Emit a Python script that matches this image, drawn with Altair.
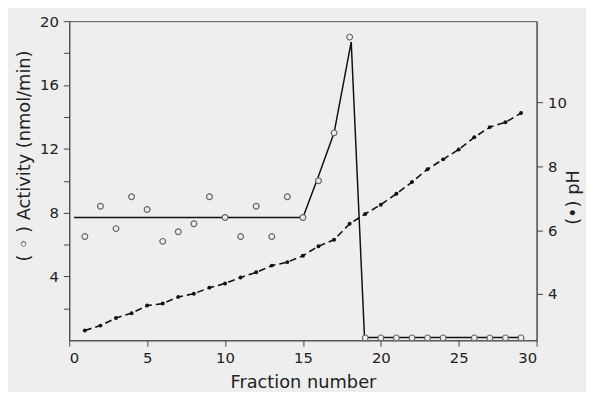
import altair as alt
import pandas as pd

# ---- data ----
fraction = list(range(1, 30))
ph = [2.86, 3.01, 3.25, 3.40, 3.64, 3.70, 3.91, 4.01, 4.20, 4.33,
      4.52, 4.68, 4.89, 5.00, 5.20, 5.50, 5.70, 6.20, 6.51, 6.80,
      7.14, 7.51, 7.91, 8.22, 8.53, 8.91, 9.23, 9.38, 9.67]

act_fraction = [1, 2, 3, 4, 5, 6, 7, 8, 9, 10, 11, 12, 13, 14, 15, 16, 17, 18,
                19, 20, 21, 22, 23, 24, 26, 27, 28, 29]
activity = [6.5, 8.4, 7.0, 9.0, 8.2, 6.2, 6.8, 7.3, 9.0, 7.7, 6.5, 8.4, 6.5, 9.0,
            7.7, 10.0, 13.0, 19.0,
            0.15, 0.15, 0.15, 0.15, 0.15, 0.15, 0.15, 0.15, 0.15, 0.15]

fit_fraction = [0.3, 15, 16, 17, 18.1, 18.95, 19, 29]
fit_activity = [7.7, 7.7, 10.3, 13.0, 18.7, 0.25, 0.18, 0.18]

x_ticks = [0, 5, 10, 15, 20, 25, 30]
act_ticks = [2, 4, 6, 8, 10, 12, 14, 16, 18, 20]
ph_ticks = [4, 6, 8, 10]

BG = "#eeeeee"
FONT = "DejaVu Sans"

df_ph = pd.DataFrame({"fraction": fraction, "ph": ph})
df_act = pd.DataFrame({"fraction": act_fraction, "activity": activity})
df_fit = pd.DataFrame({"fraction": fit_fraction, "activity": fit_activity})

xscale = alt.Scale(domain=[0, 30], nice=False, zero=False)
yscale = alt.Scale(domain=[0, 20], nice=False)
phscale = alt.Scale(domain=[2.55, 12.55], nice=False, zero=False)

common_axis = dict(grid=False, domainColor="#444", tickColor="#444", tickSize=6,
                   labelFont=FONT, labelFontSize=15, labelColor="#222",
                   titleFont=FONT, titleFontSize=18, titleFontWeight="normal",
                   titleColor="#222")

x_axis = alt.Axis(values=x_ticks, title="Fraction number", labelPadding=4,
                  titleX=236.5, titleY=48, titleBaseline="alphabetic",
                  titleAlign="center", **common_axis)
y_axis = alt.Axis(values=act_ticks, title="( \u25e6 ) Activity (nmol/min)",
                  labelExpr="datum.value % 4 == 0 ? datum.label : ''",
                  labelPadding=5, titleAngle=270, titleX=-45, titleY=136,
                  titleAlign="center", titleBaseline="middle", **common_axis)
ph_axis = alt.Axis(values=ph_ticks, title="(\u2022) pH", orient="right",
                   labelPadding=5, titleAngle=270, titleX=37, titleY=178,
                   titleAlign="center", titleBaseline="middle", **common_axis)

x_enc = alt.X("fraction:Q", scale=xscale, axis=x_axis)

ph_line = alt.Chart(df_ph).mark_line(color="#111", strokeWidth=1.6,
                                     strokeDash=[7, 4]).encode(
    x=x_enc, y=alt.Y("ph:Q", scale=phscale, axis=ph_axis))
ph_dots = alt.Chart(df_ph).mark_point(filled=True, color="#111", size=16,
                                      opacity=1).encode(
    x=x_enc, y=alt.Y("ph:Q", scale=phscale, axis=ph_axis))

fit_line = alt.Chart(df_fit).mark_line(color="#111", strokeWidth=1.5).encode(
    x=x_enc, y=alt.Y("activity:Q", scale=yscale, axis=y_axis))
act_pts = alt.Chart(df_act).mark_point(shape="circle", filled=True, fill=BG,
                                       stroke="#666", strokeWidth=1.2, size=34,
                                       opacity=1).encode(
    x=x_enc, y=alt.Y("activity:Q", scale=yscale, axis=y_axis))

left = alt.layer(fit_line, act_pts)
right = alt.layer(ph_line, ph_dots)

chart = alt.layer(left, right).resolve_scale(y="independent").properties(
    width=473, height=323,
    autosize=alt.AutoSizeParams(type="none"),
    padding={"left": 62, "top": 11, "right": 50, "bottom": 50},
    background=BG,
).configure_view(stroke="#555", strokeWidth=1)

chart.save("out.html", embed_options={"renderer": "svg", "actions": False})
